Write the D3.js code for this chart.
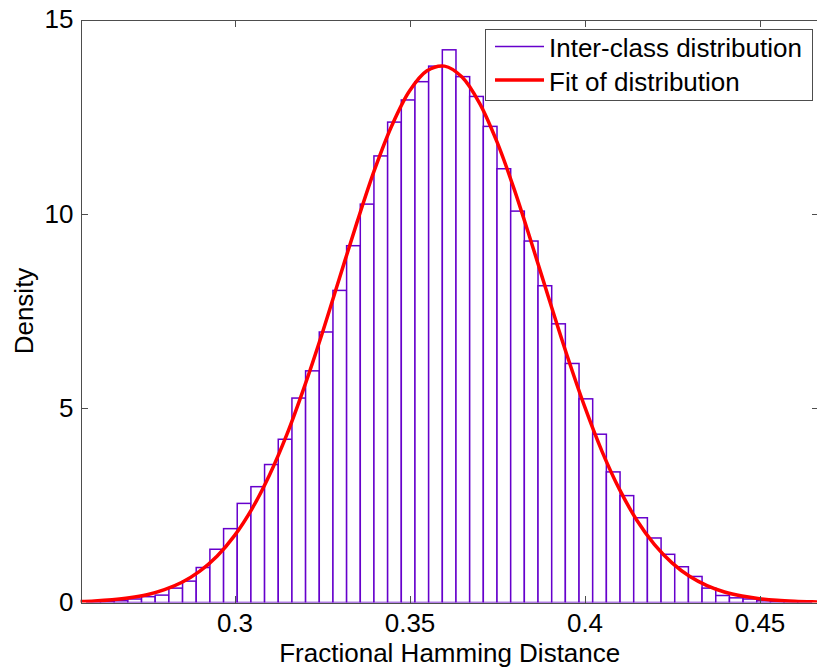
<!DOCTYPE html>
<html>

<head>
    <meta charset="UTF-8" />
    <title>Inter-class distribution</title>
    <script src="https://d3js.org/d3.v7.min.js"></script>
    <style>
        body {
            margin: 0;
            background: white;
        }

        svg text {
            font-family: "Liberation Sans", Arial, sans-serif;
            fill: black;
        }

        .axis path,
        .axis line {
            stroke: #4d4d4d;
            shape-rendering: crispEdges;
        }

        .axis text {
            font-size: 26px;
        }
    </style>
</head>

<body>
    <svg width="817" height="667"></svg>

    <script>
        // histogram bins (edges, in fractional hamming distance) and density of each bin
        var binEdges = [0.25781, 0.26172, 0.26563, 0.26953, 0.27344, 0.27734, 0.28125, 0.28516, 0.28906, 0.29297,
            0.29688, 0.30078, 0.30469, 0.30859, 0.31250, 0.31641, 0.32031, 0.32422, 0.32813, 0.33203,
            0.33594, 0.33984, 0.34375, 0.34766, 0.35156, 0.35547, 0.35938, 0.36328, 0.36719, 0.37109,
            0.37500, 0.37891, 0.38281, 0.38672, 0.39063, 0.39453, 0.39844, 0.40234, 0.40625, 0.41016,
            0.41406, 0.41797, 0.42188, 0.42578, 0.42969, 0.43359, 0.43750, 0.44141, 0.44531, 0.44922,
            0.45313, 0.45703, 0.46094, 0.46484];
        var binDensity = [0.01, 0.03, 0.05, 0.09, 0.15, 0.19, 0.37, 0.55, 0.90, 1.37,
            1.90, 2.55, 2.98, 3.55, 4.20, 5.26, 5.96, 6.96, 8.03, 9.18,
            10.25, 11.49, 12.36, 12.93, 13.40, 13.80, 14.22, 13.53, 13.02, 12.25,
            11.16, 10.07, 9.30, 8.15, 7.17, 6.15, 5.24, 4.33, 3.36, 2.75,
            2.18, 1.66, 1.24, 0.92, 0.67, 0.37, 0.18, 0.12, 0.09, 0.05,
            0.03, 0.02, 0.01];

        // fitted curve
        var fitX = [0.255, 0.26, 0.265, 0.27, 0.275, 0.28, 0.285, 0.29, 0.295, 0.30,
            0.305, 0.31, 0.315, 0.32, 0.325, 0.33, 0.335, 0.34, 0.345, 0.35,
            0.355, 0.36, 0.365, 0.37, 0.375, 0.38, 0.385, 0.39, 0.395, 0.40,
            0.405, 0.41, 0.415, 0.42, 0.425, 0.43, 0.435, 0.44, 0.445, 0.45,
            0.455, 0.46, 0.465, 0.47];
        var fitY = [0.021, 0.039, 0.070, 0.12, 0.20, 0.33, 0.52, 0.80, 1.19, 1.72,
            2.41, 3.28, 4.33, 5.56, 6.91, 8.35, 9.78, 11.13, 12.28, 13.16,
            13.68, 13.80, 13.52, 12.85, 11.85, 10.61, 9.21, 7.77, 6.36, 5.05,
            3.89, 2.91, 2.11, 1.49, 1.02, 0.675, 0.435, 0.27, 0.165, 0.097,
            0.055, 0.031, 0.017, 0.009];

        var xTicks = [0.3, 0.35, 0.4, 0.45];
        var xTickLabels = ["0.3", "0.35", "0.4", "0.45"];
        var yTicks = [0, 5, 10, 15];
        var legendLabels = ["Inter-class distribution", "Fit of distribution"];

        var histColor = "#6600cc";
        var fitColor = "#ff0000";

        function draw() {
            var svg = d3.select("svg");
            var plotLeft = 80.5, plotRight = 819, plotTop = 19.5, plotBottom = 602.5;
            var tick = 7;

            var xScale = d3.scaleLinear().domain([0.256, 0.467]).range([plotLeft, plotRight]);
            var yScale = d3.scaleLinear().domain([0, 15]).range([plotBottom, plotTop]);

            svg.append("clipPath").attr("id", "plotclip")
                .append("rect")
                .attr("x", plotLeft).attr("y", plotTop)
                .attr("width", plotRight - plotLeft).attr("height", plotBottom - plotTop);

            var bins = binDensity.map(function (d, i) {
                return { x0: binEdges[i], x1: binEdges[i + 1], density: d };
            });

            var plot = svg.append("g").attr("clip-path", "url(#plotclip)");

            // histogram outlines
            plot.selectAll("rect.bin")
                .data(bins)
                .enter()
                .append("rect")
                .attr("class", "bin")
                .attr("x", d => xScale(d.x0))
                .attr("y", d => yScale(d.density))
                .attr("width", d => xScale(d.x1) - xScale(d.x0))
                .attr("height", d => yScale(0) - yScale(d.density))
                .attr("fill", "white")
                .attr("stroke", histColor)
                .attr("stroke-width", 1.5);

            // fit curve
            var fitData = fitX.map((x, i) => ({ x: x, y: fitY[i] }));
            var line = d3.line()
                .x(d => xScale(d.x))
                .y(d => yScale(d.y))
                .curve(d3.curveCatmullRom);

            plot.append("path")
                .datum(fitData)
                .attr("fill", "none")
                .attr("stroke", fitColor)
                .attr("stroke-width", 3.5)
                .attr("stroke-linejoin", "round")
                .attr("d", line);

            // axes (ticks point inwards, like matlab)
            svg.append("g").attr("class", "axis")
                .attr("transform", "translate(0," + plotBottom + ")")
                .call(d3.axisBottom(xScale).tickValues(xTicks)
                    .tickFormat((d, i) => xTickLabels[i])
                    .tickSizeInner(-tick).tickSizeOuter(0).tickPadding(11.5));

            svg.append("g").attr("class", "axis")
                .attr("transform", "translate(0," + plotTop + ")")
                .call(d3.axisTop(xScale).tickValues(xTicks).tickFormat("")
                    .tickSizeInner(-tick).tickSizeOuter(0));

            svg.append("g").attr("class", "axis")
                .attr("transform", "translate(" + plotLeft + ",0)")
                .call(d3.axisLeft(yScale).tickValues(yTicks)
                    .tickSizeInner(-tick).tickSizeOuter(0).tickPadding(7));

            svg.append("g").attr("class", "axis")
                .attr("transform", "translate(" + plotRight + ",0)")
                .call(d3.axisRight(yScale).tickValues(yTicks).tickFormat("")
                    .tickSizeInner(-tick).tickSizeOuter(0));

            svg.selectAll(".axis text").attr("fill", "black");

            // axis titles
            svg.append("text")
                .attr("x", (plotLeft + plotRight) / 2)
                .attr("y", 661.5)
                .attr("text-anchor", "middle")
                .style("font-size", "26px")
                .text("Fractional Hamming Distance");

            svg.append("text")
                .attr("transform", "translate(33," + (plotTop + plotBottom) / 2 + ") rotate(-90)")
                .attr("text-anchor", "middle")
                .style("font-size", "26px")
                .text("Density");

            // legend
            var legend = svg.append("g");
            legend.append("rect")
                .attr("x", 485.5).attr("y", 29.5)
                .attr("width", 327).attr("height", 71)
                .attr("fill", "white")
                .attr("stroke", "#4d4d4d")
                .attr("stroke-width", 1);

            var legendItems = [
                { label: legendLabels[0], color: histColor, width: 1.5, y: 46.5 },
                { label: legendLabels[1], color: fitColor, width: 3.5, y: 80 }
            ];

            legend.selectAll("line.key")
                .data(legendItems)
                .enter()
                .append("line")
                .attr("class", "key")
                .attr("x1", 495).attr("x2", 544)
                .attr("y1", d => d.y).attr("y2", d => d.y)
                .attr("stroke", d => d.color)
                .attr("stroke-width", d => d.width);

            legend.selectAll("text.key")
                .data(legendItems)
                .enter()
                .append("text")
                .attr("class", "key")
                .attr("x", 549)
                .attr("y", d => d.y + 10.5)
                .style("font-size", "26px")
                .text(d => d.label);
        }

        draw();
    </script>
</body>

</html>
